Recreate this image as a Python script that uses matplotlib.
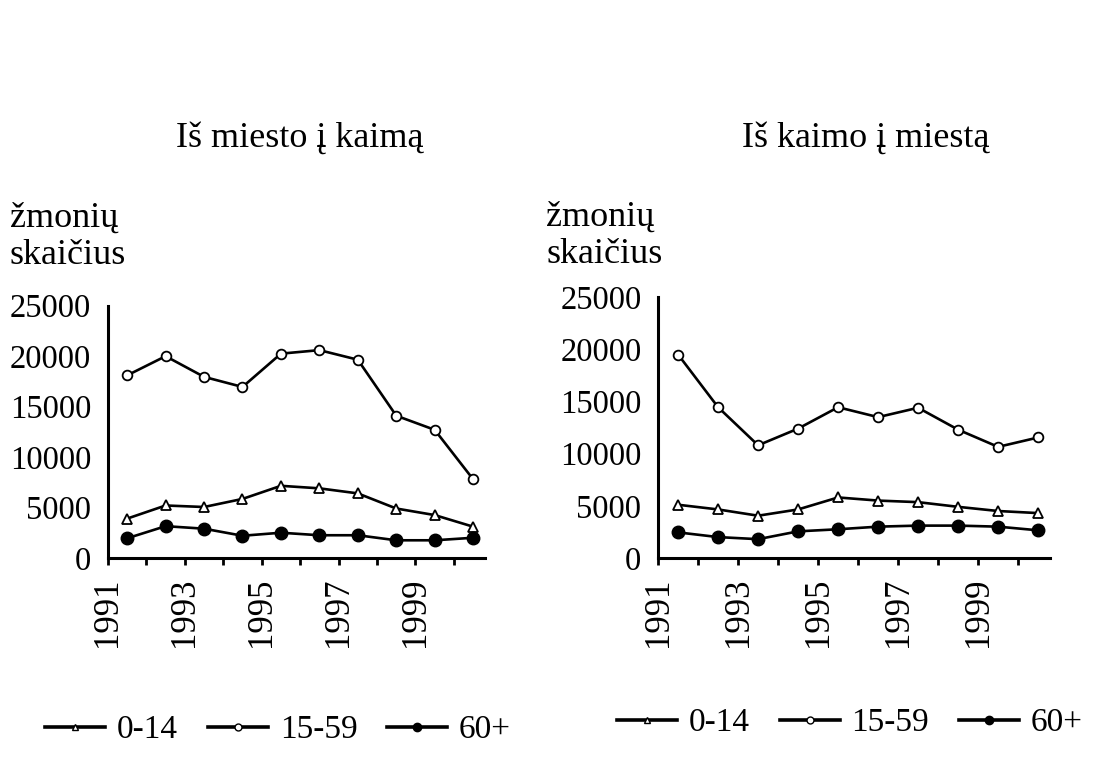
import matplotlib
matplotlib.use("Agg")
import matplotlib.pyplot as plt
from matplotlib.lines import Line2D
import numpy as np

years = [1991, 1992, 1993, 1994, 1995, 1996, 1997, 1998, 1999, 2000]

# Iš miesto į kaimą
city_to_rural_0_14 = [3900, 5200, 5050, 5850, 7150, 6900, 6400, 4900, 4250, 3100]
city_to_rural_15_59 = [18100, 20000, 17950, 16950, 20250, 20600, 19650, 14100, 12700, 7800]
city_to_rural_60 = [1950, 3150, 2900, 2200, 2500, 2250, 2250, 1750, 1750, 2000]

# Iš kaimo į miestą
rural_to_city_0_14 = [5100, 4650, 4050, 4650, 5800, 5500, 5350, 4900, 4500, 4300]
rural_to_city_15_59 = [19500, 14450, 10800, 12400, 14450, 13500, 14400, 12300, 10650, 11550]
rural_to_city_60 = [2450, 2000, 1800, 2550, 2750, 3000, 3100, 3100, 3000, 2650]

titles = ["Iš miesto į kaimą", "Iš kaimo į miestą"]
ylabel = "žmonių\nskaičius"
labels = ["0-14", "15-59", "60+"]

plt.rcParams["font.family"] = ["Liberation Serif", "DejaVu Serif"]

fig = plt.figure(figsize=(10.95, 7.76), dpi=100)
ax_l = fig.add_axes([0.0986, 0.281, 0.344, 0.325])
ax_r = fig.add_axes([0.601, 0.281, 0.358, 0.336])

styles = [
    dict(marker="^", ms=7, mfc="white", mec="black", mew=1.3),
    dict(marker="o", ms=7, mfc="white", mec="black", mew=1.3),
    dict(marker="o", ms=9, mfc="black", mec="black"),
]

panels = [
    (ax_l, [city_to_rural_0_14, city_to_rural_15_59, city_to_rural_60]),
    (ax_r, [rural_to_city_0_14, rural_to_city_15_59, rural_to_city_60]),
]

x = np.arange(len(years)) + 0.5
for ax, series in panels:
    for vals, st, lab in zip(series, styles, labels):
        ax.plot(x, vals, color="black", lw=1.9, label=lab, **st)
    ax.set_xlim(0, 9.8)
    ax.set_ylim(0, 25000)
    ax.set_yticks(range(0, 25001, 5000))
    ax.set_xticks(range(0, 10))
    ax.set_xticklabels([str(years[i]) if i % 2 == 0 else "" for i in range(10)],
                       rotation=90, fontsize=25)
    ax.tick_params(axis="y", labelsize=23.5, length=0, pad=12)
    ax.tick_params(axis="x", length=5, width=2, direction="out", pad=9)
    for side in ("top", "right"):
        ax.spines[side].set_visible(False)
    for side in ("left", "bottom"):
        ax.spines[side].set_linewidth(2.2)

fig.text(0.274, 1 - 138 / 776, titles[0], ha="center", va="center", fontsize=26)
fig.text(0.791, 1 - 138 / 776, titles[1], ha="center", va="center", fontsize=26)
fig.text(0.009, 1 - 237 / 776, ylabel, ha="left", va="center", fontsize=26,
         linespacing=1.15)
fig.text(0.499, 1 - 236 / 776, ylabel, ha="left", va="center", fontsize=26,
         linespacing=1.15)

leg_handles = [
    Line2D([], [], color="black", lw=2.6, marker="^", ms=5, mfc="white", mec="black"),
    Line2D([], [], color="black", lw=2.6, marker="o", ms=5, mfc="white", mec="black"),
    Line2D([], [], color="black", lw=2.6, marker="o", ms=6, mfc="black", mec="black"),
]
for cx, cy in [(0.254, 0.059), (0.776, 0.068)]:
    fig.legend(handles=leg_handles, labels=labels, loc="center",
               bbox_to_anchor=(cx, cy), ncol=3, frameon=False, fontsize=24,
               handlelength=1.8, handletextpad=0.35, columnspacing=0.9,
               borderaxespad=0)

fig.savefig("out.png", dpi=100)
